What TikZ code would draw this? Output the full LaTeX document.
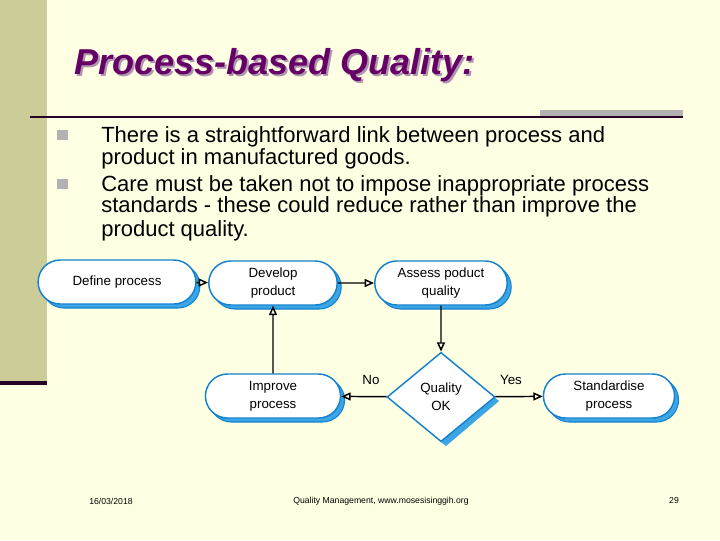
\documentclass[tikz,border=0pt]{standalone}
\usepackage{fontspec}
\setmainfont{Liberation Sans}
\usetikzlibrary{shapes.misc,shapes.geometric,arrows.meta}
\definecolor{bgc}{RGB}{255,255,227}
\definecolor{bandc}{RGB}{204,204,153}
\definecolor{titlec}{RGB}{102,0,102}
\definecolor{shadc}{RGB}{175,150,175}
\definecolor{linec}{RGB}{40,0,40}
\definecolor{grayc}{RGB}{178,178,178}
\definecolor{bordc}{RGB}{20,130,205}
\definecolor{shc}{RGB}{60,165,230}
\newcommand{\shadtitle}[1]{\rlap{\hspace{1.6pt}\raisebox{-1.6pt}{\textcolor{shadc}{#1}}}\textcolor{titlec}{#1}}
\tikzset{
  procbox/.style={rounded rectangle, draw=bordc, line width=1.1pt, fill=white,
    minimum height=33pt, align=center, font=\fontsize{10}{13.5}\selectfont},
  shbox/.style={rounded rectangle, draw=bordc, line width=0.8pt, fill=shc,
    minimum height=33pt},
  flow/.style={-{Triangle[open,length=7pt,width=6pt]}, line width=1.1pt, black},
  bul/.style={fill=grayc, minimum size=8pt, inner sep=0pt},
  btext/.style={anchor=base west, font=\fontsize{16.5}{18}\selectfont, inner sep=0pt},
  foot/.style={font=\fontsize{6.5}{7}\selectfont, inner sep=0pt},
  lab/.style={font=\fontsize{10}{11}\selectfont, inner sep=0pt}
}
\begin{document}
\begin{tikzpicture}[x=0.75pt,y=-0.75pt]
\fill[bgc] (0,0) rectangle (720,540);
\useasboundingbox (0,0) rectangle (720,540);
\fill[bandc] (0,0) rectangle (47,383);
\fill[linec] (0,381) rectangle (47,385);
\fill[grayc] (540,110) rectangle (683,117);
\draw[linec, line width=1.5pt] (30,117) -- (683,117);
% title
\node[anchor=base west, inner sep=0pt, font=\fontsize{27}{30}\selectfont\bfseries\itshape] (title) at (74,74) {\shadtitle{Process-based Quality:}};
% bullets
\node[bul] (b1) at (62.5,135) {};
\node[bul] (b2) at (62.5,184) {};
\node[btext] (t1) at (101,142) {There is a straightforward link between process and};
\node[btext] (t2) at (101,164) {product in manufactured goods.};
\node[btext] (t3) at (101,191) {Care must be taken not to impose inappropriate process};
\node[btext] (t4) at (101,212) {standards - these could reduce rather than improve the};
\node[btext] (t5) at (101,236) {product quality.};
% shadows
\node[shbox, minimum width=125pt] at (121,286) {};
\node[shbox, minimum width=103pt] at (277,287) {};
\node[shbox, minimum width=106pt] at (445,287) {};
\node[shbox, minimum width=108pt] at (277,400) {};
\node[shbox, minimum width=105pt] at (613,400) {};
\fill[shc] (494,397) -- (499,401) -- (446,446) -- (441,442) -- cycle;
% nodes
\node[procbox, minimum width=125pt] (def) at (117,282) {Define process};
\node[procbox, minimum width=103pt] (dev) at (273,283) {Develop\\product};
\node[procbox, minimum width=106pt] (ass) at (441,283) {Assess poduct\\quality};
\node[procbox, minimum width=108pt] (imp) at (273,396) {Improve\\process};
\node[procbox, minimum width=105pt] (std) at (609,396) {Standardise\\process};
\node[diamond, draw=bordc, line width=1.1pt, fill=white, minimum width=81pt, minimum height=67pt, inner sep=0pt, align=center, font=\fontsize{10}{13.5}\selectfont] (q) at (441,397) {Quality\\OK};
% connectors
\draw[flow] (def) -- (dev);
\draw[flow] (dev) -- (ass);
\draw[flow] (imp) -- (dev);
\draw[flow] (ass) -- (q);
\draw[flow] (q) -- (imp);
\draw[flow] (q) -- (std);
\node[lab] (no) at (371,380) {No};
\node[lab] (yes) at (511,380) {Yes};
% footer
\node[foot] (f1) at (111,501) {16/03/2018};
\node[foot] (f2) at (381,501) {Quality Management, www.mosesisinggih.org};
\node[foot] (f3) at (674,501) {29};
\end{tikzpicture}
\end{document}
